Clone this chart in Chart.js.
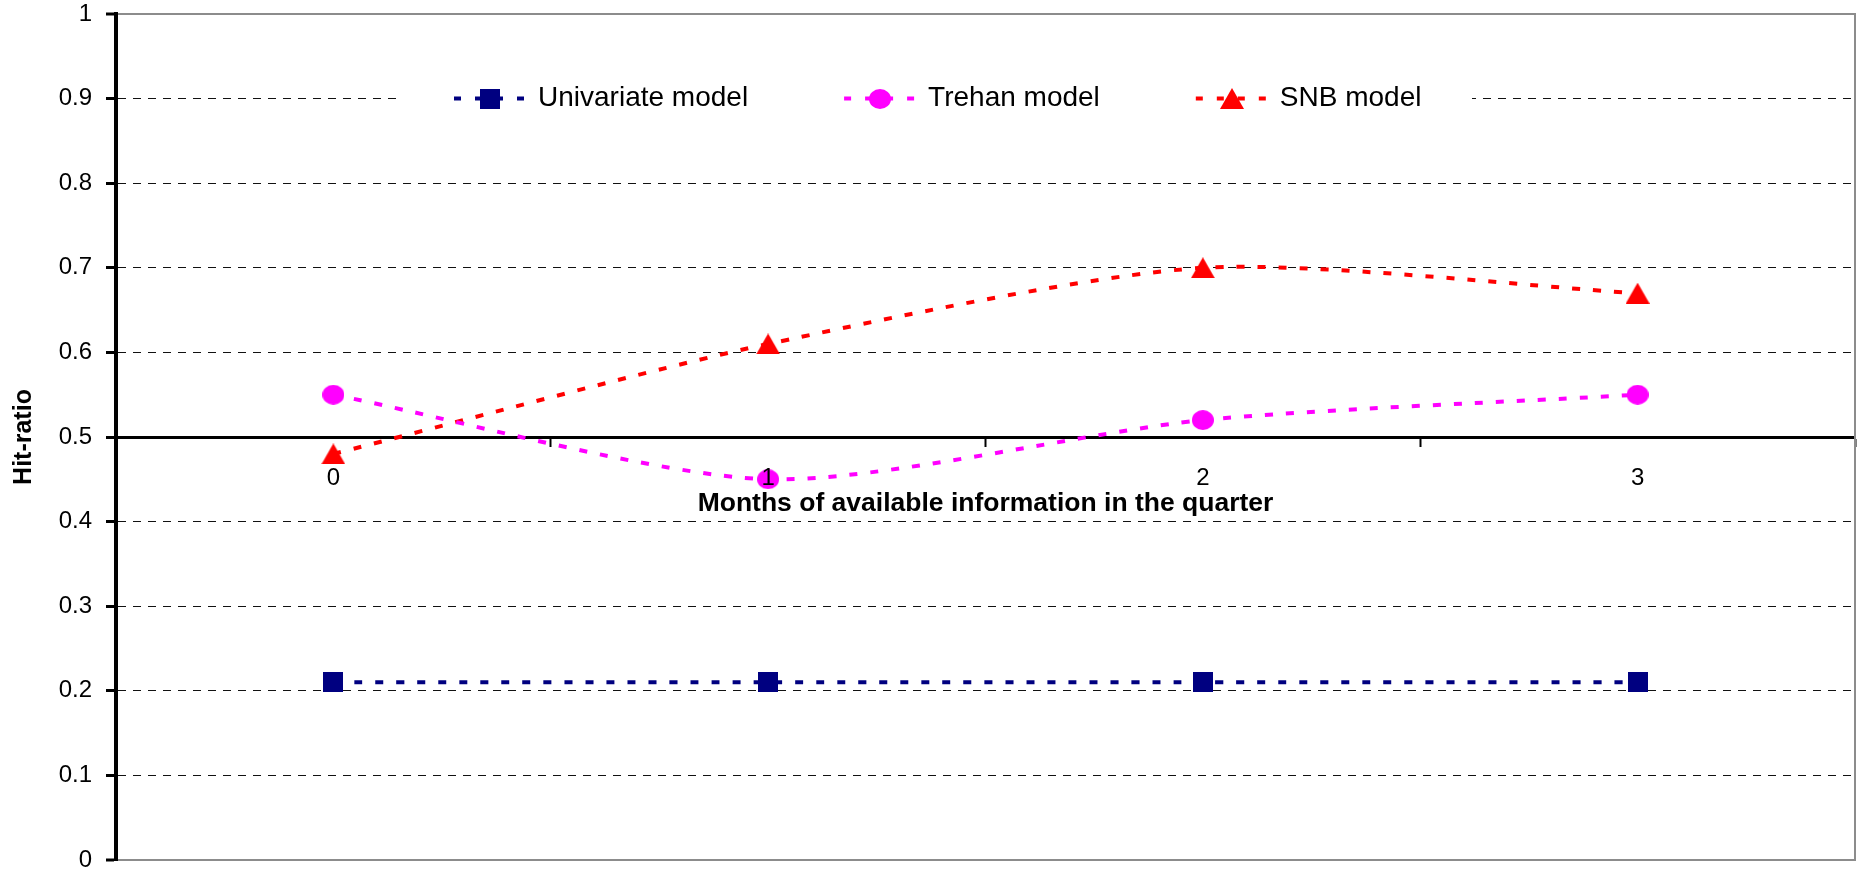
<!DOCTYPE html>
<html>
<head>
<meta charset="utf-8">
<script src="https://cdn.jsdelivr.net/npm/chart.js@4.4.1/dist/chart.umd.min.js"></script>
<style>
  html, body { margin: 0; padding: 0; background: #ffffff; }
  #wrap { width: 1869px; height: 874px; }
</style>
</head>
<body>
<div id="wrap"><canvas id="chart" width="1869" height="874"></canvas></div>
<script>
// Hit-ratios by months of information available in the quarter
const monthLabels = ['0', '1', '2', '3'];
const seriesNames = ['Univariate model', 'Trehan model', 'SNB model'];
const univariateHits = [0.21, 0.21, 0.21, 0.21];
const trehanHits = [0.55, 0.45, 0.52, 0.55];
const snbHits = [0.48, 0.61, 0.70, 0.67];
const yAxisTitle = 'Hit-ratio';
const xAxisTitle = 'Months of available information in the quarter';

const FONT = '"Liberation Sans", Arial, sans-serif';
Chart.defaults.font.family = FONT;
Chart.defaults.color = '#000';

// Solid marker glyphs, centred on their bounding box
function marker(shape, color) {
  const c = document.createElement('canvas');
  const dims = { square: [20, 20], circle: [22, 20], triangle: [24, 21] }[shape];
  c.width = dims[0]; c.height = dims[1];
  const g = c.getContext('2d');
  const w = c.width, h = c.height;
  g.fillStyle = color;
  if (shape === 'square') {
    g.fillRect(0, 0, w, h);
  } else if (shape === 'circle') {
    g.beginPath(); g.ellipse(w / 2, h / 2, w / 2, h / 2, 0, 0, Math.PI * 2); g.fill();
  } else {
    g.beginPath(); g.moveTo(w / 2, 0); g.lineTo(w, h); g.lineTo(0, h); g.closePath(); g.fill();
  }
  return c;
}

const LINE_DASH = [8, 13];

function series(label, data, color, shape) {
  return {
    label, data,
    borderColor: color,
    backgroundColor: color,
    borderWidth: 4,
    borderDash: LINE_DASH,
    borderCapStyle: 'butt',
    tension: 0.25,
    fill: false,
    pointStyle: marker(shape, color),
    pointRadius: 10,
    pointHoverRadius: 10
  };
}

const isFrameTick = (ctx) => ctx.tick && (Math.abs(ctx.tick.value) < 1e-9 || Math.abs(ctx.tick.value - 1) < 1e-9);

// Legend drawn inside the plot, on a white band across the 0.9 grid line
const insetLegend = {
  id: 'insetLegend',
  afterDatasetsDraw(chart) {
    const { ctx, chartArea, scales } = chart;
    const cy = scales.y.getPixelForValue(0.9);
    ctx.save();
    ctx.fillStyle = '#ffffff';
    ctx.fillRect(chartArea.left + 284, cy - 28, 1072, 56);
    ctx.font = '28px ' + FONT;
    ctx.textAlign = 'left';
    ctx.textBaseline = 'middle';
    let x = chartArea.left + 338;
    chart.data.datasets.forEach((ds) => {
      ctx.strokeStyle = ds.borderColor;
      ctx.lineWidth = 4;
      ctx.setLineDash([7, 14]);
      ctx.beginPath();
      ctx.moveTo(x, cy);
      ctx.lineTo(x + 72, cy);
      ctx.stroke();
      ctx.setLineDash([]);
      const img = ds.pointStyle;
      ctx.drawImage(img, Math.round(x + 36 - img.width / 2), Math.round(cy - img.height / 2));
      ctx.fillStyle = '#000';
      ctx.fillText(ds.label, x + 84, cy);
      x += 84 + ctx.measureText(ds.label).width + 96;
    });
    ctx.restore();
  }
};

new Chart(document.getElementById('chart'), {
  type: 'line',
  data: {
    labels: monthLabels,
    datasets: [
      series(seriesNames[0], univariateHits, '#000080', 'square'),
      series(seriesNames[1], trehanHits, '#ff00ff', 'circle'),
      series(seriesNames[2], snbHits, '#ff0000', 'triangle')
    ]
  },
  options: {
    responsive: false,
    animation: false,
    layout: { padding: { left: 0, right: 9, top: 0, bottom: 0 } },
    plugins: {
      legend: { display: false },
      tooltip: { enabled: false }
    },
    scales: {
      x: {
        type: 'category',
        position: { y: 0.5 },
        offset: true,
        grid: { drawOnChartArea: false, offset: true, tickLength: 8, tickColor: '#000', tickWidth: 2 },
        border: { color: '#000', width: 3 },
        ticks: { color: '#000', font: { size: 24 }, padding: 19, maxRotation: 0, z: 1 },
        title: {
          display: true, text: xAxisTitle, color: '#000',
          font: { size: 26.5, weight: 'bold' },
          padding: { top: -24, bottom: 0 }
        }
      },
      y: {
        min: 0, max: 1,
        ticks: {
          stepSize: 0.1, color: '#000', font: { size: 24 }, padding: 14,
          callback: (v) => String(Math.round(v * 10) / 10)
        },
        grid: {
          color: (ctx) => isFrameTick(ctx) ? '#8c8c8c' : '#111',
          lineWidth: (ctx) => isFrameTick(ctx) ? 2 : 1,
          tickLength: 10, tickColor: '#000', tickWidth: 3
        },
        border: {
          color: '#000', width: 4,
          dash: (ctx) => isFrameTick(ctx) ? [] : [8, 7]
        },
        title: {
          display: true, text: yAxisTitle, color: '#000',
          font: { size: 25, weight: 'bold' },
          padding: { top: 9, bottom: 0 }
        },
        afterFit(scale) {
          scale.width = 116;
          scale.paddingTop = 14;
          scale.paddingBottom = 10;
        }
      },
      yFrame: {
        position: 'right',
        min: 0, max: 1,
        ticks: { display: false },
        grid: { display: false },
        border: { color: '#8c8c8c', width: 2 },
        afterFit(scale) { scale.width = 0; }
      }
    }
  },
  plugins: [insetLegend]
});
</script>
</body>
</html>
